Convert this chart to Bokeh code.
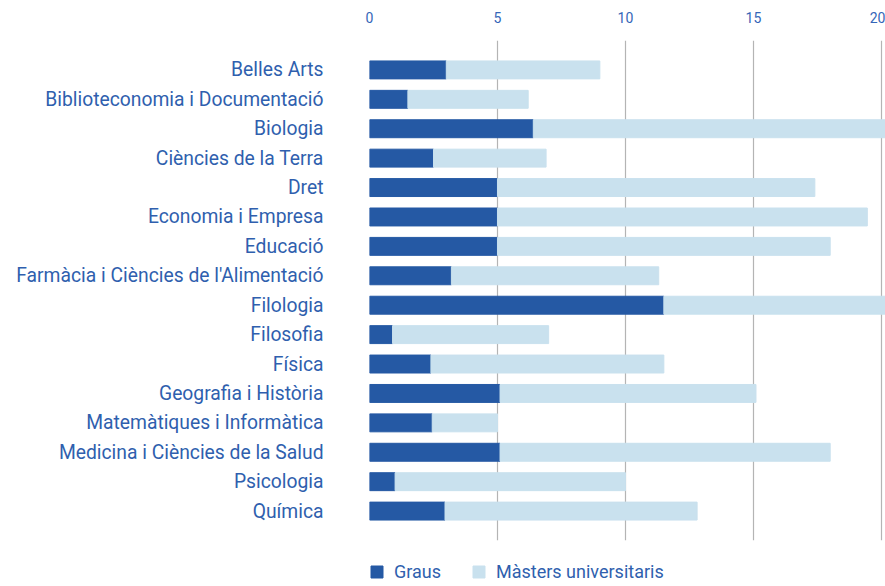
from bokeh.plotting import figure
from bokeh.models import Range1d, Legend, LegendItem, FixedTicker, ColumnDataSource
from bokeh.embed import file_html
from bokeh.resources import INLINE

categories = ["Belles Arts", "Biblioteconomia i Documentació", "Biologia", "Ciències de la Terra",
              "Dret", "Economia i Empresa", "Educació", "Farmàcia i Ciències de l'Alimentació",
              "Filologia", "Filosofia", "Física", "Geografia i Història",
              "Matemàtiques i Informàtica", "Medicina i Ciències de la Salud", "Psicologia", "Química"]
graus = [3.0, 1.5, 6.4, 2.5, 5.0, 5.0, 5.0, 3.2, 11.5, 0.9, 2.4, 5.1, 2.45, 5.1, 1.0, 2.95]
masters = [6.0, 4.7, 14.6, 4.4, 12.4, 14.45, 13.0, 8.1, 9.0, 6.1, 9.1, 10.0, 2.55, 12.9, 9.0, 9.85]
x_ticks = [0, 5, 10, 15, 20]

DARK = "#2559a4"
LIGHT = "#c9e1ee"
TXT = "#2f5fae"
FONT = "Roboto"

n = len(categories)
ypos = [n - 1 - i for i in range(n)]
totals = [g + m for g, m in zip(graus, masters)]
src = ColumnDataSource(dict(y=ypos, g=graus, t=totals, zero=[0] * n))

p = figure(frame_width=516, frame_height=500, output_backend="svg", toolbar_location=None,
           x_range=Range1d(0, 20.16), y_range=Range1d(-1, n),
           x_axis_location="above", min_border_left=369, min_border_right=0,
           min_border_top=40, min_border_bottom=0, outline_line_color=None)

r1 = p.hbar(y="y", left="zero", right="g", height=0.61, color=DARK, source=src)
r2 = p.hbar(y="y", left="g", right="t", height=0.61, color=LIGHT, source=src)

xa = p.xaxis[0]
xa.ticker = FixedTicker(ticks=x_ticks)
xa.axis_line_color = None
xa.major_tick_line_color = None
xa.minor_tick_line_color = None
xa.major_tick_out = 0
xa.major_label_standoff = 18
xa.major_label_text_font = FONT
xa.major_label_text_font_size = "14px"
xa.major_label_text_color = "#3566b8"

ya = p.yaxis[0]
ya.ticker = FixedTicker(ticks=ypos)
ya.major_label_overrides = {y: c for y, c in zip(ypos, categories)}
ya.axis_line_color = None
ya.major_tick_line_color = None
ya.minor_tick_line_color = None
ya.major_tick_out = 0
ya.major_label_standoff = 46
ya.major_label_text_font = FONT
ya.major_label_text_font_size = "19.3px"
ya.major_label_text_color = TXT

p.ygrid.grid_line_color = None
p.xgrid.grid_line_color = "#b4b4b4"
p.xgrid.grid_line_width = 1.2
p.xgrid.ticker = FixedTicker(ticks=x_ticks)

legend = Legend(items=[LegendItem(label="Graus", renderers=[r1]),
                       LegendItem(label="Màsters universitaris", renderers=[r2])],
                orientation="horizontal", location="top_left",
                title=" ", title_text_font_size="1px", title_standoff=20,
                border_line_color=None, background_fill_alpha=0,
                label_text_font=FONT, label_text_font_size="18px", label_text_color=TXT,
                glyph_width=15, glyph_height=15, spacing=30, label_standoff=10,
                padding=0, margin=0)
p.add_layout(legend, "below")

open("out.html", "w").write(file_html(p, INLINE))
